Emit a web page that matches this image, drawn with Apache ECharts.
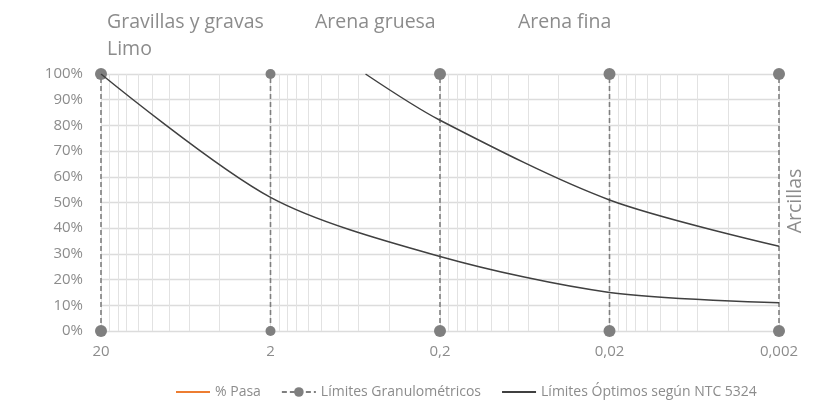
<!DOCTYPE html>
<html>
<head>
<meta charset="utf-8">
<script src="https://cdn.jsdelivr.net/npm/echarts@6/dist/echarts.min.js"></script>
<style>
  html, body { margin: 0; padding: 0; background: #ffffff; }
  #chart { width: 824px; height: 412px; }
</style>
</head>
<body>
<div id="chart"></div>
<script>
// Grain size axis (mm), coarse to fine, and its labels
const sizeTicks = [20, 2, 0.2, 0.02, 0.002];
const tickLabels = ['20', '2', '0,2', '0,02', '0,002'];

// Grain-size class boundaries (mm) and the span they cover (% passing)
const boundarySizes = [20, 2, 0.2, 0.02, 0.002];
const boundaryPercents = [0, 100];

// Lower optimum limit according to NTC 5324
const lowerSizes = [20, 2, 0.2, 0.02, 0.002];
const lowerPercents = [100, 52, 29, 15, 11];

// Upper optimum limit according to NTC 5324
const upperSizes = [0.55, 0.2, 0.02, 0.002];
const upperPercents = [100, 82, 51, 33];

// Sample gradation (% passing) – no sieve results yet
const pasaSizes = [];
const pasaPercents = [];

// Soil class captions
const classNames = ['Gravillas y gravas', 'Arena gruesa', 'Arena fina', 'Limo', 'Arcillas'];

// Multiples (of half the finer decade bound) used for the minor grid
const minorMultiples = [4, 6, 8, 10, 12, 14, 16, 18];

// Position along the axis: decades below the coarsest size
const COARSEST = sizeTicks[0];
const pos = s => Math.log10(COARSEST / s);
const pairs = (xs, ys) => xs.map((s, i) => [pos(s), ys[i]]);

const minorLines = [];
for (let d = 0; d < sizeTicks.length - 1; d++) {
  minorMultiples.forEach(m => {
    minorLines.push({ xAxis: pos((m / 2) * sizeTicks[d + 1]) });
  });
}

const textColor = '#8c8c8c';
const labelFont = 'Open Sans';
const captionFont = '19.5px "Open Sans"';

const boundarySeries = boundarySizes.map((s, i) => ({
  name: 'Límites Granulométricos',
  type: 'line',
  data: boundaryPercents.map(p => [pos(s), p]),
  symbol: 'circle',
  symbolSize: i === 1 ? 10 : 12,
  showSymbol: true,
  itemStyle: { color: '#7f7f7f' },
  lineStyle: { color: '#7f7f7f', width: 1.6, type: [5, 3] },
  z: 3,
  silent: true
}));

const option = {
  animation: false,
  backgroundColor: '#ffffff',
  textStyle: { fontFamily: labelFont },
  grid: { left: 101, right: 45, top: 74, bottom: 81, containLabel: false },
  xAxis: {
    type: 'value',
    min: 0,
    max: sizeTicks.length - 1,
    interval: 1,
    axisLine: { show: false },
    axisTick: { show: false },
    axisLabel: {
      color: textColor,
      fontSize: 15,
      margin: 13,
      formatter: v => tickLabels[Math.round(v)]
    },
    splitLine: { show: true, lineStyle: { color: '#e1e1e1', width: 1 } }
  },
  yAxis: {
    type: 'value',
    min: 0,
    max: 100,
    interval: 10,
    axisLine: { show: false },
    axisTick: { show: false },
    axisLabel: { color: textColor, fontSize: 15, margin: 18, formatter: '{value}%' },
    splitLine: { show: true, lineStyle: { color: '#dcdcdc', width: 1.3 } }
  },
  legend: {
    bottom: 8,
    left: 170,
    itemWidth: 34,
    itemHeight: 12,
    itemGap: 20,
    textStyle: { color: textColor, fontSize: 14, fontFamily: labelFont },
    data: [
      { name: '% Pasa', itemStyle: { opacity: 0 } },
      { name: 'Límites Granulométricos' },
      { name: 'Límites Óptimos según NTC 5324', itemStyle: { opacity: 0 } }
    ]
  },
  graphic: [
    { type: 'text', left: 107, top: 12, style: { text: classNames[0], fill: textColor, font: captionFont } },
    { type: 'text', left: 315, top: 12, style: { text: classNames[1], fill: textColor, font: captionFont } },
    { type: 'text', left: 518, top: 12, style: { text: classNames[2], fill: textColor, font: captionFont } },
    { type: 'text', left: 107, top: 39, style: { text: classNames[3], fill: textColor, font: captionFont } },
    { type: 'text', x: 795, y: 201, rotation: Math.PI / 2,
      style: { text: classNames[4], fill: textColor, font: captionFont, textAlign: 'center', textVerticalAlign: 'middle' } }
  ],
  series: [
    {
      type: 'line',
      data: [],
      silent: true,
      z: 1,
      markLine: {
        silent: true,
        symbol: ['none', 'none'],
        label: { show: false },
        lineStyle: { color: '#e2e2e2', width: 1, type: 'solid' },
        data: minorLines
      }
    },
    {
      name: '% Pasa',
      type: 'line',
      data: pairs(pasaSizes, pasaPercents),
      symbol: 'none',
      lineStyle: { color: '#ED7D31', width: 1.5 },
      itemStyle: { color: '#ED7D31' },
      z: 4
    },
    ...boundarySeries,
    {
      name: 'Límites Óptimos según NTC 5324',
      type: 'line',
      data: pairs(lowerSizes, lowerPercents),
      smooth: 0.3,
      symbol: 'none',
      lineStyle: { color: '#404040', width: 1.5 },
      itemStyle: { color: '#404040' },
      z: 5
    },
    {
      name: 'Límites Óptimos según NTC 5324',
      type: 'line',
      data: pairs(upperSizes, upperPercents),
      smooth: 0.3,
      symbol: 'none',
      lineStyle: { color: '#404040', width: 1.5 },
      itemStyle: { color: '#404040' },
      z: 5
    }
  ]
};

const chart = echarts.init(document.getElementById('chart'), null, { renderer: 'canvas' });
chart.setOption(option);
</script>
</body>
</html>
